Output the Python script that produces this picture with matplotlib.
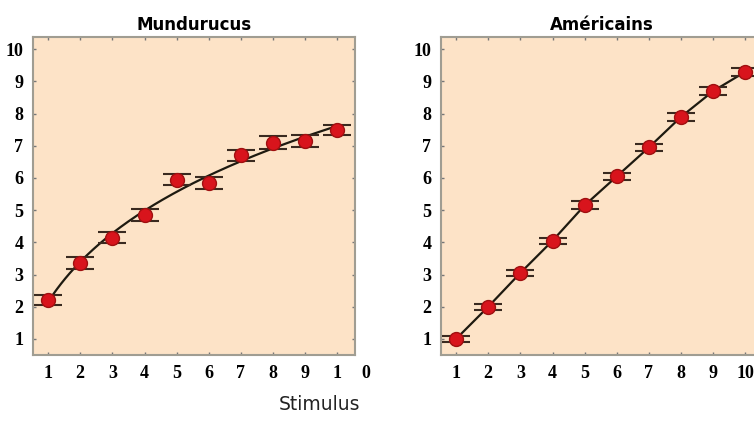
import numpy as np
import matplotlib.pyplot as plt

stimulus = [1, 2, 3, 4, 5, 6, 7, 8, 9, 10]
mundurucus = [2.2, 3.35, 4.15, 4.85, 5.95, 5.85, 6.7, 7.1, 7.15, 7.5]
mundurucus_err = [0.15, 0.18, 0.18, 0.18, 0.18, 0.18, 0.18, 0.2, 0.18, 0.15]
americains = [1.0, 2.0, 3.05, 4.05, 5.15, 6.05, 6.95, 7.9, 8.7, 9.3]
americains_err = [0.1, 0.1, 0.1, 0.1, 0.12, 0.12, 0.12, 0.12, 0.12, 0.12]

left_ticklabels = ["1", "2", "3", "4", "5", "6", "7", "8", "9", "1"]
right_ticklabels = ["1", "2", "3", "4", "5", "6", "7", "8", "9", "10"]
yticks = [1, 2, 3, 4, 5, 6, 7, 8, 9, 10]

BG = "#fde3c7"
RED = "#d8141c"
LINE = "#1e1a10"
TICKFONT = dict(family="Liberation Serif", weight="bold", size=13)

fig = plt.figure(figsize=(7.54, 4.21), dpi=100)
ax1 = fig.add_axes([33 / 754, 1 - 355 / 421, 322 / 754, 318 / 421])
ax2 = fig.add_axes([441 / 754, 1 - 355 / 421, 322 / 754, 318 / 421])


def style(ax, title, xlabels):
    ax.set_facecolor(BG)
    ax.set_xlim(0.53, 10.55)
    ax.set_ylim(0.5, 10.38)
    ax.set_xticks(stimulus)
    ax.set_xticklabels(xlabels, fontdict=TICKFONT)
    ax.set_yticks(yticks)
    ax.set_yticklabels([str(v) for v in yticks], fontdict=TICKFONT)
    ax.tick_params(direction="in", length=2.5, width=1, color="#777", top=True, right=True, pad=7)
    for s in ax.spines.values():
        s.set_color("#a09d92")
        s.set_linewidth(1.5)
    ax.set_title(title, fontsize=12, fontweight="bold", pad=5, family="DejaVu Sans")


# Mundurucus: smooth fit through the points
x = np.array(stimulus, dtype=float)
coef = np.polyfit(np.log(x), mundurucus, 2)
xs = np.linspace(1, 10, 200)
ax1.plot(xs, np.polyval(coef, np.log(xs)), color=LINE, lw=1.6, zorder=2)
ax1.errorbar(stimulus, mundurucus, yerr=mundurucus_err, fmt="o", ms=10, color=RED,
             mec="#a01010", ecolor="#3a2a20", elinewidth=1.2, capsize=10, capthick=1.5, zorder=3)
style(ax1, "Mundurucus", left_ticklabels)
ax1.text(10.9, -0.031, "0", ha="center", va="top", fontdict=TICKFONT,
         transform=ax1.get_xaxis_transform())
ax1.text(1.015, -0.157, "Stimulus", transform=ax1.transAxes, ha="right", va="center",
         fontsize=13.5, family="DejaVu Sans", color="#222")

# Américains
ax2.plot(stimulus, americains, color=LINE, lw=1.6, zorder=2)
ax2.errorbar(stimulus, americains, yerr=americains_err, fmt="o", ms=10, color=RED,
             mec="#a01010", ecolor="#3a2a20", elinewidth=1.2, capsize=10, capthick=1.5, zorder=3)
style(ax2, "Américains", right_ticklabels)

fig.savefig("out.png", dpi=100)
